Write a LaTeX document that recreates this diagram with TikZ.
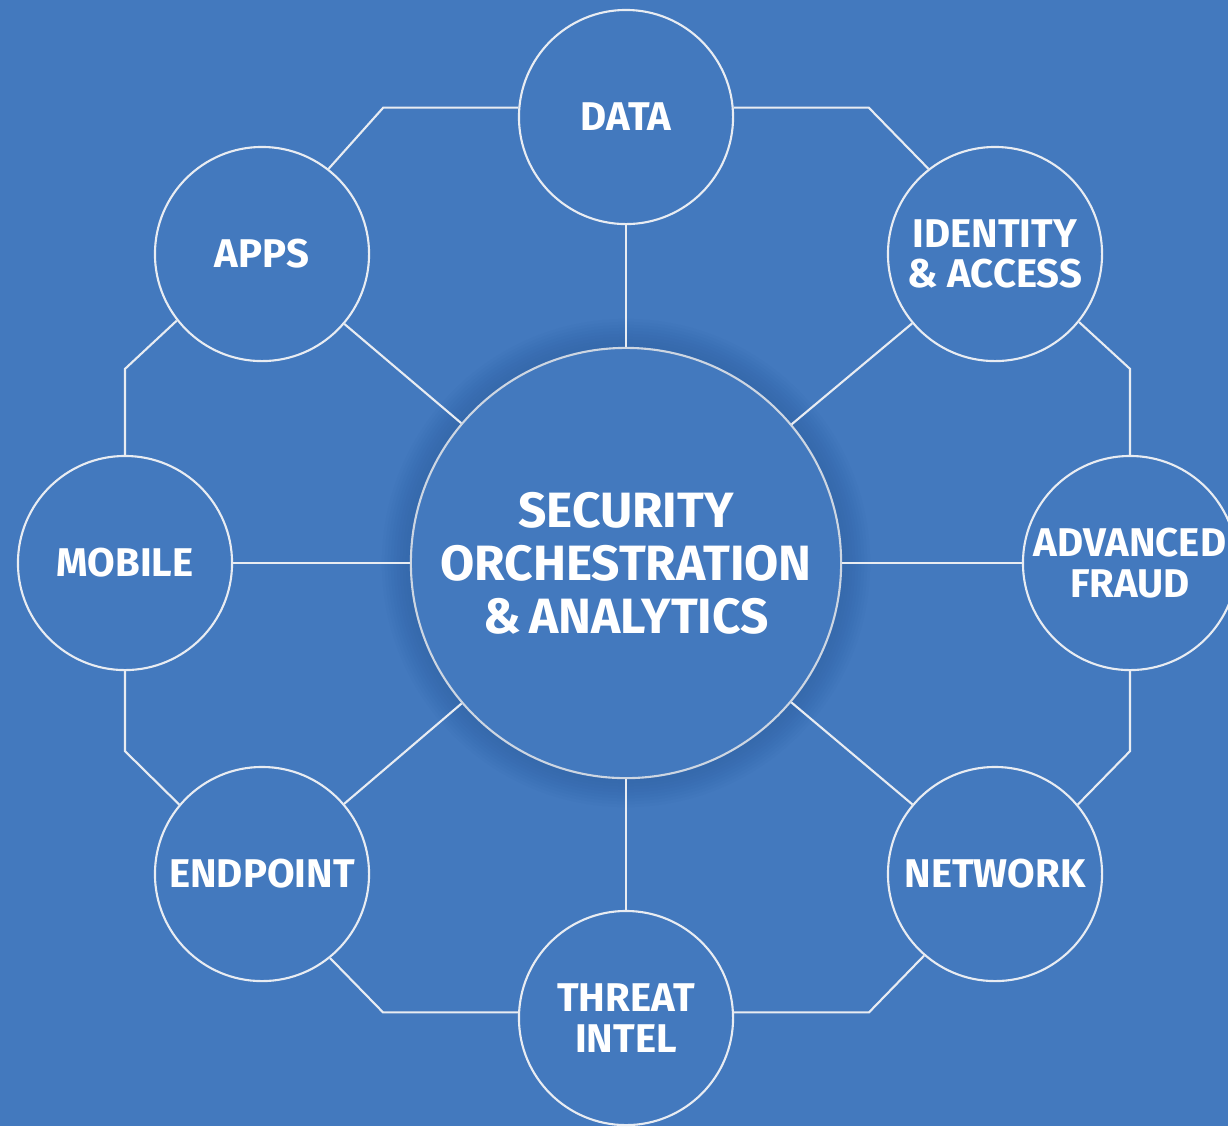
\documentclass[tikz,border=0pt]{standalone}
\usepackage{fontspec}
\setmainfont{Fira Sans}
\usetikzlibrary{positioning}
\definecolor{bgblue}{HTML}{4379BE}
\definecolor{glowblue}{HTML}{2A5C9E}
\definecolor{rimgray}{HTML}{E8ECF2}
\definecolor{hubrim}{HTML}{CDD6E2}

\begin{document}
\begin{tikzpicture}[x=0.01cm,y=-0.01cm,
  hub/.style={circle,draw=hubrim,line width=0.6pt,fill=bgblue,minimum size=4.3cm,inner sep=0pt,
    text=white,align=center,font=\bfseries\fontsize{14.1}{15.1}\selectfont},
  sat/.style={circle,draw=rimgray,line width=0.6pt,fill=bgblue,minimum size=2.14cm,inner sep=0pt,
    text=white,align=center,font=\bfseries\fontsize{11.4}{11.6}\selectfont},
  link/.style={draw=rimgray,line width=0.6pt}]
  \fill[bgblue] (0,0) rectangle (1228,1126);
  \useasboundingbox (0,0) rectangle (1228,1126);

  % soft shadow round the hub
  \foreach \r in {2.17,2.20,...,2.45}
    \fill[glowblue,opacity=0.06] (626,563) circle (\r cm);

  \node[hub] (hub) at (626,563) {SECURITY\\ORCHESTRATION\\\&\,ANALYTICS};

  \node[sat] (data)     at (626,117)  {DATA};
  \node[sat] (identity) at (995,254)  {IDENTITY\\\& ACCESS};
  \node[sat] (fraud)    at (1130,563) {ADVANCED\\FRAUD};
  \node[sat] (network)  at (995,874)  {NETWORK};
  \node[sat] (threat)   at (626,1018) {THREAT\\INTEL};
  \node[sat] (endpoint) at (262,874)  {ENDPOINT};
  \node[sat] (mobile)   at (125,563)  {MOBILE};
  \node[sat] (apps)     at (262,254)  {APPS};

  % spokes
  \foreach \s in {data,identity,fraud,network,threat,endpoint,mobile,apps}
    \draw[link] (hub) -- (\s);

  % outer ring
  \draw[link] (data.175) -- ++(-135,0) -- (apps.52);
  \draw[link] (data.5) -- ++(135,0) -- (identity.128);
  \draw[link] (fraud.north) -- ++(0,-86) -- (identity.-39);
  \draw[link] (fraud.south) -- ++(0,80) -- (network.40);
  \draw[link] (threat.3) -- ++(135,0) -- (network.-131);
  \draw[link] (threat.177) -- ++(-135,0) -- (endpoint.-51);
  \draw[link] (mobile.south) -- ++(0,80) -- (endpoint.140);
  \draw[link] (mobile.north) -- ++(0,-86) -- (apps.-142);
\end{tikzpicture}
\end{document}
